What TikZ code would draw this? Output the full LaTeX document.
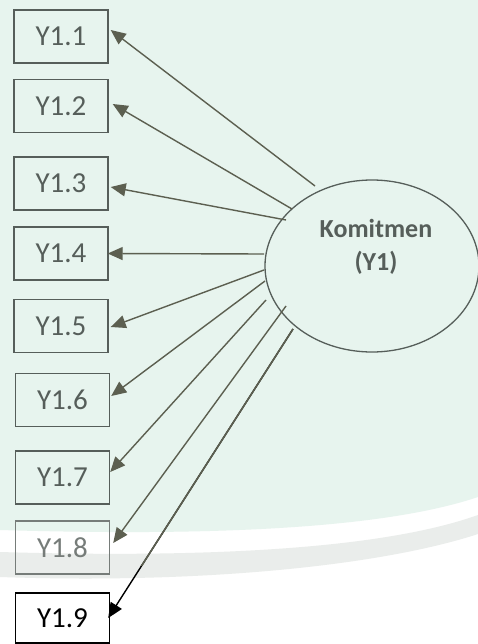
\documentclass[tikz,border=0pt]{standalone}
\usepackage{fontspec}
\setmainfont{Carlito}
\usetikzlibrary{arrows.meta,shapes.geometric}

\definecolor{mint}{RGB}{231,244,238}
\definecolor{band}{RGB}{234,237,235}
\definecolor{ink}{RGB}{86,94,90}
\definecolor{arrowink}{RGB}{92,95,80}
\definecolor{paleink}{RGB}{118,124,121}

\begin{document}
\begin{tikzpicture}[x=1pt,y=-1pt,
  indicator/.style={draw=ink, line width=1.4pt, minimum width=94pt,
    minimum height=53pt, inner sep=0pt, text=ink,
    font=\fontsize{29}{32}\selectfont},
  loading/.style={draw=arrowink, line width=1.4pt,
    -{Triangle[length=15pt,width=13pt]}},
]
\useasboundingbox (0,0) rectangle (478,644);

% paper tint and the curved band beneath it
\fill[white] (0,0) rectangle (478,644);
\fill[mint] (0,0) -- (478,0) -- (478,497)
  .. controls (380,530) and (200,536) .. (0,530) -- cycle;
\fill[band] (478,515) .. controls (380,550) and (200,558) .. (0,552)
  -- (0,577) .. controls (200,584) and (380,566) .. (478,534) -- cycle;

% latent construct
\node (lat) [ellipse, draw=ink, line width=1.3pt, minimum width=214pt,
  minimum height=172pt, inner sep=0pt] at (372,266) {};
\node (latname) [text=ink, align=center,
  font=\bfseries\fontsize{26}{33}\selectfont] at (376,247) {Komitmen\\(Y1)};

% indicators
\node (i1) [indicator] at (61,36.5) {Y1.1};
\node (i2) [indicator] at (61,106) {Y1.2};
\node (i3) [indicator] at (61,183.5) {Y1.3};
\node (i4) [indicator] at (61,253.5) {Y1.4};
\node (i5) [indicator] at (61,326) {Y1.5};
\node (i6) [indicator] at (62.5,400) {Y1.6};
\node (i7) [indicator] at (62.5,477.5) {Y1.7};
\node (i8) [indicator, draw=paleink, text=paleink] at (62.5,547.5) {Y1.8};
\node (i9) [indicator, draw=black, text=black, minimum height=50pt] at (62.5,618) {Y1.9};

% where each loading leaves the ellipse
\coordinate (s1) at (315,186);
\coordinate (s2) at (292,209);
\coordinate (s3) at (286,220);
\coordinate (s4) at (264,254);
\coordinate (s5) at (264,270);
\coordinate (s6) at (265,281);
\coordinate (s7) at (266,300);
\coordinate (s8) at (286,306);
\coordinate (s9) at (293,329);

% loadings
\draw[loading] (s1) -- ([xshift=2pt,yshift=6.5pt]i1.east);
\draw[loading] (s2) -- ([xshift=4pt,yshift=2pt]i2.east);
\draw[loading] (s3) -- ([xshift=2pt,yshift=-3.5pt]i3.east);
\draw[loading] (s4) -- ([xshift=-1pt]i4.east);
\draw[loading] (s5) -- ([xshift=2pt,yshift=-1pt]i5.east);
\draw[loading] (s6) -- ([xshift=1pt,yshift=4pt]i6.east);
\draw[loading] (s7) -- ([yshift=5.5pt]i7.east);
\draw[loading] (s8) -- ([xshift=3pt,yshift=4.5pt]i8.east);
\draw[loading, draw=black, fill=black] (s9) -- ([xshift=-2pt]i9.east);
\begin{scope}
  \clip (0,0) rectangle (478,565);
  \draw[draw=arrowink, line width=1.6pt] (s9) -- ([xshift=-2pt]i9.east);
\end{scope}
\end{tikzpicture}
\end{document}
